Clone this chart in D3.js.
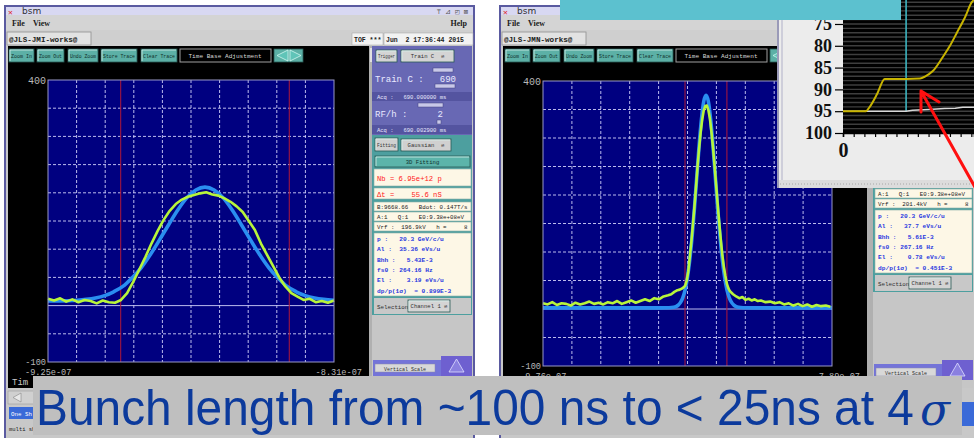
<!DOCTYPE html>
<html>
<head>
<meta charset="utf-8">
<script src="https://cdn.jsdelivr.net/npm/d3@7"></script>
<style>
body{margin:0;background:#fff;}
svg{display:block;}
</style>
</head>
<body>
<div id="wrapper"></div>
<script>
// ---- left scope (long bunch), time in ns ----
var leftTime = [-925,-923,-921,-919,-917,-915,-913,-911,-909,-907,-905,-903,-901,-899,-897,-895,-893,-891,-889,-887,-885,-883,-881,-879,-877,-875,-873,-871,-869,-867,-865,-863,-861,-859,-857,-855,-853,-851,-849,-847,-845,-843,-841,-839,-837,-835,-833,-831];
var leftMeasured = [12,9,13,7,11,6,10,8,4,9,6,5,10,22,42,64,86,110,132,152,168,180,188,193,196,199,201,197,195,190,184,176,166,150,134,110,90,70,50,34,22,16,10,12,6,8,5,9];
var leftFitTime = [-925,-921.4,-918.4,-915.4,-912.4,-909.4,-906.4,-903.4,-900.4,-897.4,-894.4,-891.4,-888.4,-885.4,-882.4,-879.4,-876.4,-873.4,-870.4,-867.4,-864.4,-861.4,-858.4,-855.4,-852.4,-849.4,-846.4,-843.4,-840.4,-837.4,-834.4,-831];
var leftFitValue = [8.1,8.3,8.7,9.5,11,13.5,17.7,24.5,34,49,67,90,116,143,169,191,205,210,205,191,169,143,116,90,67,49,34,24.5,17.7,13.5,11,9.5];
var leftMarkers = [-901.1,-845.7];
var leftDomain = [-925,-831];
var leftAxisLabels = ["-9.25e-07","-8.31e-07"];

// ---- right scope (short bunch) ----
var rightTime = [-976,-973,-970,-967,-964,-961,-958,-955,-952,-949,-946,-943,-940,-937,-934,-931,-928,-925,-922,-919,-916,-913,-910,-907,-904,-901,-898,-895,-893,-891,-889,-887.5,-886,-885,-884,-883,-882,-881,-880,-879,-878,-877,-876,-875,-874,-873,-872,-871,-870,-869,-868,-867,-866,-865,-864,-863,-862,-861,-860,-859,-858,-857,-856,-855,-853,-851,-849,-847,-845,-843,-841,-839,-837,-835,-832,-829,-826,-823,-820,-817,-814,-811,-808,-805,-802,-799,-796,-793,-790];
var rightMeasured = [10,8,12,7,10,9,6,11,8,10,13,9,11,8,12,10,14,9,12,15,11,14,17,14,19,17,22,24,26,30,33,34,36,38,41,50,66,92,118,148,180,214,250,282,310,332,348,356,357,349,334,311,284,252,218,184,152,122,96,74,58,44,36,31,26,22,19,21,16,18,15,17,14,15,12,13,10,12,8,10,6,9,5,8,4,7,5,6,4];
var rightFitTime = [-976,-940,-910,-900,-894.5,-891.5,-890,-888.5,-887,-885.5,-884,-882.5,-881,-879.5,-878,-876.5,-875,-873.5,-872,-870.5,-869,-867.5,-866,-864.5,-863,-861.5,-860,-858.5,-857,-855.5,-854,-852.5,-851,-849.5,-846.5,-840,-820,-789];
var rightFitValue = [2,2,2,2,2.2,3,4.3,6.9,11.7,20,34,56,87,128,177,232,286,332,364,375,364,332,286,232,177,128,87,56,34,20,11.7,6.9,4.3,3,2.2,2,2,2];
var rightMarkers = [-884.1,-857.0];
var rightDomain = [-976,-789];
var rightAxisLabels = ["-9.76e-07","-7.89e-07"];

var scopeYLabels = ["400","-100"];
var scopeButtons = ["Zoom In","Zoom Out","Undo Zoom","Store Trace","Clear Trace"];

// ---- side panel texts ----
var leftInfo = ["p :   20.3 GeV/c/u","Al :  35.36 eVs/u","Bhh :   5.43E-3","fs0 : 264.16 Hz","El :    3.19 eVs/u","dp/p(1σ)  = 0.899E-3"];
var rightInfo = ["p :   20.3 GeV/c/u","Al :   37.7 eVs/u","Bhh :   5.61E-3","fs0 : 267.16 Hz","El :    0.78 eVs/u","dp/p(1σ)  = 0.451E-3"];
var leftMachine = ["B:9668.66   Bdot: 0.147T/s","A:1   Q:1   E0:9.38e+08eV","Vrf :  196.9kV   h =     8"];
var rightMachine = ["B:9668.66   Bdot: 0.147T/s","A:1   Q:1   E0:9.38e+08eV","Vrf :  201.4kV   h =     8"];

// ---- inset (top right) ----
var insetYTicks = [75,80,85,90,95,100];
var yellowX = [0,2.15,2.5,3.2,3.9,5.9,7.2,7.7,8.4,9.35,10,10.65,11.4,12.05,12.25];
var yellowY = [95,95,94,91,87.6,87.6,87.5,87,85.8,82.5,80,77,73.5,70,69.5];
var whiteX = [0,5.9,6.5,8,9.5,10.5,11.2,12.25];
var whiteY = [95,95,94.8,94.6,94.4,94.3,94.1,94.1];
var cursorX = 5.9;

var mono = '"Liberation Mono","DejaVu Sans Mono",monospace';
var svg = d3.select('#wrapper').append('svg')
	.attr('width',974).attr('height',438)
	.style('font-family',mono);

function rect(g,x,y,w,h,fill,stroke,sw){
	return g.append('rect').attr('x',x).attr('y',y).attr('width',w).attr('height',h)
		.attr('fill',fill).attr('stroke',stroke||'none').attr('stroke-width',sw||1);
}
function text(g,x,y,s,size,fill,anchor,weight){
	return g.append('text').attr('x',x).attr('y',y).text(s)
		.attr('font-size',size).attr('fill',fill)
		.attr('text-anchor',anchor||'start').attr('font-weight',weight||'normal')
		.attr('xml:space','preserve');
}
function button(g,x,y,w,h,label,fill,color){
	rect(g,x,y,w,h,fill,'#2a5a55',0.8);
	g.append('path').attr('d','M'+(x+1)+','+(y+h-1)+'V'+(y+1)+'H'+(x+w-1))
		.attr('stroke','#d8f0ec').attr('fill','none').attr('stroke-width',0.8);
	var t = text(g,x+w/2,y+h/2+2.1,label,5.6,color||'#10302c','middle');
	var tw = t.node().getComputedTextLength();
	if(tw > w-4){ t.attr('textLength',w-4).attr('lengthAdjust','spacingAndGlyphs'); }
}

function drawScope(g,box,domain,time,measured,fitT,fitV,markers,axisLabels){
	var x = d3.scaleLinear().domain(domain).range([box.x,box.x+box.w]);
	var y = d3.scaleLinear().domain([-100,400]).range([box.y+box.h,box.y]);
	rect(g,box.x,box.y,box.w,box.h,'#000080');
	var vgrid = d3.range(1,10).map(function(i){ return domain[0]+i*(domain[1]-domain[0])/10; });
	g.selectAll(null).data(vgrid).enter().append('line')
		.attr('x1',function(d){return x(d);}).attr('x2',function(d){return x(d);})
		.attr('y1',box.y).attr('y2',box.y+box.h)
		.attr('stroke','#d0d0f8').attr('stroke-width',0.9).attr('stroke-dasharray','3,2');
	var hgrid = d3.range(-50,400,50);
	g.selectAll(null).data(hgrid).enter().append('line')
		.attr('x1',box.x).attr('x2',box.x+box.w)
		.attr('y1',function(d){return y(d);}).attr('y2',function(d){return y(d);})
		.attr('stroke','#d0d0f8').attr('stroke-width',0.9)
		.attr('stroke-dasharray',function(d){ return d===0 ? null : '3,2'; });
	g.selectAll(null).data(markers).enter().append('line')
		.attr('x1',function(d){return x(d);}).attr('x2',function(d){return x(d);})
		.attr('y1',box.y).attr('y2',box.y+box.h)
		.attr('stroke','#b01838').attr('stroke-width',1);
	var fit = d3.line().x(function(d){return x(d[0]);}).y(function(d){return y(d[1]);}).curve(d3.curveMonotoneX);
	var raw = d3.line().x(function(d){return x(d[0]);}).y(function(d){return y(d[1]);});
	g.append('path').datum(d3.zip(fitT,fitV)).attr('d',fit)
		.attr('fill','none').attr('stroke','#2a8ef0').attr('stroke-width',3.6);
	g.append('path').datum(d3.zip(time,measured)).attr('d',raw)
		.attr('fill','none').attr('stroke','#b8f53a').attr('stroke-width',2.6).attr('stroke-linejoin','round');
	rect(g,box.x,box.y,box.w,box.h,'none','#9a9ac8',1);
	text(g,box.x-2,box.y+4,scopeYLabels[0],10,'#b8b8b8','end');
	text(g,box.x-2,box.y+box.h+2.5,scopeYLabels[1],8.6,'#b8b8b8','end');
	text(g,box.x-23,box.y+box.h+box.lab,axisLabels[0],8.6,'#b8b8b8','start');
	text(g,box.x+box.w+28,box.y+box.h+box.lab,axisLabels[1],8.6,'#b8b8b8','end');
}

function drawPanel(g,px,dy,bdy,machine,info){
	rect(g,px,46,100,89,'#6868b4');
	button(g,px+4,50,21,12,'Trigger','#d4d4d4','#303030');
	button(g,px+29,50,53,12,'Train C  ⇌','#d4d4d4','#303030');
	[[61,68],[63,84],[46,103]].forEach(function(b,i){
		rect(g,px+b[0],b[1],i===2?25:20,4,'#c8c8e8','#404080',0.5);
	});
	text(g,px+3,82,'Train C :',9,'#e8e8ff');
	text(g,px+84,82,'690',9,'#e8e8ff','end');
	rect(g,px,92,100,9,'#5454a0');
	text(g,px+5,99,'Acq :   690.000000 ms',5.5,'#e8e8ff');
	text(g,px+3,117,'RF/h :',9,'#e8e8ff');
	text(g,px+71,117,'2',9,'#e8e8ff','end');
	rect(g,px+65,120,4,4,'#c8c8e8','#404080',0.5);
	rect(g,px,125,100,9,'#5454a0');
	text(g,px+5,132,'Acq :   690.002900 ms',5.5,'#e8e8ff');

	rect(g,px,135+dy,100,180,'#4d9f9f');
	button(g,px+3,138+dy,23,13,'Fitting','#d0d0d0','#303030');
	button(g,px+29,139+dy,50,12,'Gaussian  ⇌','#d0d0d0','#303030');
	button(g,px+3,156+dy,95,11,'3D Fitting','#5cb4aa');
	rect(g,px+2,169+dy,97,17,'#fdf7e6','#8ab0a8',0.6);
	text(g,px+5,181+dy,'Nb = 6.95e+12 p',7.2,'#ff2020');
	rect(g,px+2,188+dy,97,11,'#fdf7e6','#8ab0a8',0.6);
	text(g,px+5,197+dy,'Δt =    55.6 nS',7.2,'#ff2020');
	machine.forEach(function(s,i){
		rect(g,px+2,202+i*10+dy,97,9,'#fdf7e6','#8ab0a8',0.6);
		text(g,px+5,209+i*10+dy,s,5.8,'#202020');
	});
	rect(g,px+2,233+dy,97,63,'#fdf7e6','#8ab0a8',0.6);
	info.forEach(function(s,i){
		text(g,px+5,241+i*10.3+dy,s,6.2,'#2838e0','start','bold');
	});
	rect(g,px+2,298+dy,97,16,'#c8c8c8');
	text(g,px+5,309+dy,'Selection',5.8,'#303030');
	button(g,px+36,300+dy,42,12,'Channel 1 ⇌','#d4d4d4','#303030');
	rect(g,px,315+dy,100,73-dy,'#c6c6c6');
	rect(g,px+1,360+bdy,69,16,'#7474d8');
	rect(g,px+3,364+bdy,60,8,'#d8d8d8','#8888aa',0.5);
	text(g,px+33,370.5+bdy,'Vertical Scale',5,'#303030','middle');
	rect(g,px+69,356+bdy,31,20,'#6e60d0');
	g.append('path').attr('d','M'+(px+84.5)+','+(359+bdy)+'L'+(px+77)+','+(372+bdy)+'H'+(px+92)+'Z')
		.attr('fill','#8a80e0').attr('stroke','#e0e0ff').attr('stroke-width',0.8);
}

function drawWindow(o){
	var g = svg.append('g');
	var L = o.x0, R = o.x1;
	rect(g,L,6,R-L,436,'#c8c8c8','#5a5aa0',2);
	rect(g,L+1,7,R-L-2,8,'#d8d8f2');
	text(g,L+3,14.5,'✕',8,'#e02020');
	text(g,L+17,14,'bsm',9,'#333','start').style('font-family','"DejaVu Sans",sans-serif');
	if(o.rightIcons){ text(g,R-6,14,'⊤ ⊿ ◰ ⊠',7,'#555','end'); }
	rect(g,L+1,15,R-L-2,15,'#d4d4d4');
	text(g,L+7,26,'File',8,'#202020','start','bold').style('font-family','"Liberation Serif",serif');
	text(g,L+28,26,'View',8,'#202020','start','bold').style('font-family','"Liberation Serif",serif');
	if(o.help){ text(g,R-7,26,'Help',8,'#202020','end','bold').style('font-family','"Liberation Serif",serif'); }
	rect(g,L+1,30,R-L-2,16,'#cfcfcf');
	rect(g,L+2,32,84,13,'#e2e2e2','#909090',0.8);
	text(g,L+4,41.5,o.host,7.6,'#202020','start','bold');
	if(o.date){
		rect(g,R-122,33,31,12,'#f2f2f2','#a0a0a0',0.5);
		text(g,R-120,41.5,'TOF ***',6.5,'#202020','start','bold');
		rect(g,R-90,33,89,12,'#f2f2f2','#a0a0a0',0.5);
		text(g,R-88,41.5,'Jun  2 17:36:44 2015',6.5,'#202020','start','bold');
	}
	rect(g,L+3,46,o.blackW,342,'#000');
	var bx = [[4,25],[32,27],[63,30],[96,36],[136,36]];
	scopeButtons.forEach(function(s,i){ button(g,L+bx[i][0]+o.bshift,49,bx[i][1],13,s,'#5cb0a6'); });
	rect(g,L+175+o.bshift,49,91,13,'#000','#a0a0a0',1);
	text(g,L+220+o.bshift,58,'Time Base Adjustment',6.1,'#d8d8d8','middle');
	rect(g,L+269+o.bshift,49,29,13,'#5cb0a6','#2a5a55',0.8);
	g.append('path').attr('d','M'+(L+283+o.bshift)+',50L'+(L+272+o.bshift)+',55.5L'+(L+283+o.bshift)+',61Z M'+(L+285+o.bshift)+',50L'+(L+296+o.bshift)+',55.5L'+(L+285+o.bshift)+',61Z')
		.attr('fill','#60c4b8').attr('stroke','#e0fff8').attr('stroke-width',0.7);
	rect(g,L+3+o.blackW,46,6,342,'#b0b0b0');
	rect(g,L+4+o.blackW,48,4,14,'#e0e0e0');
	if(o.bottom){
		text(g,L+7,385,'Tim',9,'#c8c8c8');
		rect(g,L+3,391,26,13,'#d0d0d0','#909090',0.5);
		g.append('path').attr('d','M'+(L+16)+',393L'+(L+8)+',397.5L'+(L+16)+',402Z')
			.attr('fill','#e8e8e8').attr('stroke','#909090').attr('stroke-width',0.7);
		rect(g,L+4,407,26,12,'#3a6ad8');
		text(g,L+6,415.5,'One Sh',5.8,'#fff');
		text(g,L+4,431,'multi sh',5.5,'#202020');
	} else {
		rect(g,R-14,402,12,24,'#3a6ad8');
	}
	return g;
}

// left window
var gl = drawWindow({x0:5,x1:474,host:'@JLS-JMI-works@',date:true,help:true,rightIcons:true,blackW:361,bshift:0,bottom:true});
drawPanel(gl,372,0,0,leftMachine,leftInfo);
drawScope(gl,{x:48,y:80,w:286,h:282,lab:12.5},leftDomain,leftTime,leftMeasured,leftFitTime,leftFitValue,leftMarkers,leftAxisLabels);

// right window
var gr = drawWindow({x0:500,x1:976,host:'@JLS-JMN-works@',date:false,help:false,rightIcons:false,blackW:364,bshift:1,bottom:false});
drawPanel(gr,873,-23,4,rightMachine,rightInfo);
drawScope(gr,{x:543,y:81,w:289,h:285,lab:12.5},rightDomain,rightTime,rightMeasured,rightFitTime,rightFitValue,rightMarkers,rightAxisLabels);

// inset
var gi = svg.append('g');
rect(gi,778,0,196,188,'#ececec');
gi.append('line').attr('x1',778).attr('x2',778).attr('y1',0).attr('y2',188).attr('stroke','#9a9ab8').attr('stroke-width',2);
gi.append('line').attr('x1',782).attr('x2',782).attr('y1',0).attr('y2',180).attr('stroke','#c4c4d4').attr('stroke-width',1.5);
rect(gi,779,180,195,8,'#dcdcdc');
gi.append('line').attr('x1',780).attr('x2',974).attr('y1',184).attr('y2',184)
	.attr('stroke','#a8a8a8').attr('stroke-dasharray','1,2');
var ix = d3.scaleLinear().domain([0,12.25]).range([843,974]);
var iy = d3.scaleLinear().domain([100,69.5]).range([133,0]);
rect(gi,843,0,131,133,'#000');
gi.selectAll(null).data(d3.range(70,100)).enter().append('line')
	.attr('x1',843).attr('x2',974)
	.attr('y1',function(d){return iy(d);}).attr('y2',function(d){return iy(d);})
	.attr('stroke','#3e3e3e').attr('stroke-width',1.4);
var yAx = gi.append('g').attr('transform','translate(843,0)')
	.call(d3.axisLeft(iy).tickValues(insetYTicks).tickSize(8).tickPadding(3));
yAx.select('.domain').remove();
yAx.selectAll('line').attr('stroke','#000').attr('stroke-width',1.2);
yAx.selectAll('text').attr('font-size',18).attr('font-weight','bold')
	.attr('font-family','"Liberation Serif",serif').attr('fill','#111');
var xAx = gi.append('g').attr('transform','translate(0,133)')
	.call(d3.axisBottom(ix).tickValues(d3.range(0,13)).tickSize(4).tickPadding(6)
		.tickFormat(function(d){ return d===0 ? '0' : ''; }));
xAx.select('.domain').attr('stroke','#000').attr('stroke-width',1.5);
xAx.selectAll('line').attr('stroke','#000').attr('stroke-width',1.2);
xAx.selectAll('text').attr('font-size',20).attr('font-weight','bold')
	.attr('font-family','"Liberation Serif",serif').attr('fill','#111');
gi.append('line').attr('x1',ix(cursorX)).attr('x2',ix(cursorX)).attr('y1',0).attr('y2',iy(95))
	.attr('stroke','#3cb4c0').attr('stroke-width',1.6);
var iline = d3.line().x(function(d){return ix(d[0]);}).y(function(d){return iy(d[1]);});
gi.append('path').datum(d3.zip(whiteX,whiteY)).attr('d',iline)
	.attr('fill','none').attr('stroke','#d8d8d8').attr('stroke-width',1.5);
gi.append('path').datum(d3.zip(yellowX,yellowY)).attr('d',iline.curve(d3.curveMonotoneX))
	.attr('fill','none').attr('stroke','#c8b400').attr('stroke-width',2);

// cyan title strip
rect(svg,560,0,341,20,'#5cc1cf');

// red arrow
svg.append('path').attr('d','M980,196L921,91M939,102L921,91L921,112')
	.attr('fill','none').attr('stroke','#ff1010').attr('stroke-width',3)
	.attr('stroke-linecap','round').attr('stroke-linejoin','round');

// caption: condensed horizontally like the slide font
rect(svg,33,376,929,59,'#bfbfbf');
var capG = svg.append('g');
var capT = capG.append('text').attr('x',0).attr('y',0)
	.attr('font-family','"Liberation Sans",Arial,sans-serif').attr('font-size',50)
	.attr('fill','#0c3a9c').text('Bunch length from ~100 ns to < 25ns at 4');
var capW = capT.node().getComputedTextLength();
capG.attr('transform','translate(36,425) scale('+(878/capW)+',1)');
svg.append('text').attr('x',920).attr('y',425)
	.attr('font-family','"DejaVu Serif",serif').attr('font-style','italic').attr('font-size',44)
	.attr('fill','#0c3a9c').text('σ');
</script>
</body>
</html>
